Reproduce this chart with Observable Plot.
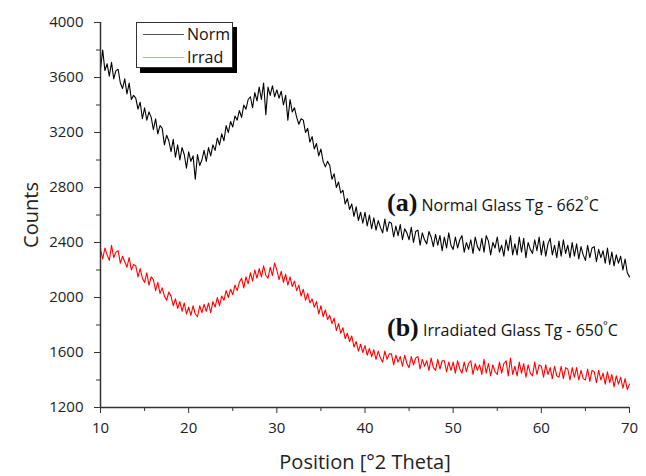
<!DOCTYPE html>
<html>
<head>
<meta charset="utf-8">
<script src="https://cdn.jsdelivr.net/npm/d3@7"></script>
<script src="https://cdn.jsdelivr.net/npm/@observablehq/plot@0.6"></script>
<style>
  html, body { margin: 0; padding: 0; background: #fff; }
  #wrap { position: relative; width: 646px; height: 476px; font-family: "Open Sans", sans-serif; }
  #wrap svg g[aria-label="y-axis label"], #wrap svg g[aria-label="x-axis label"] { font-size: 20px; }
  .legend { position: absolute; left: 136px; top: 22px; width: 95px; height: 44px; border: 1px solid #333; background: #fff; box-shadow: 4px 5px 0 #000; }
  .legend .row { position: absolute; left: 0; height: 20px; width: 95px; }
  .legend .swatch { position: absolute; left: 6px; top: 10px; width: 41px; height: 0; border-top: 1.5px solid; }
  .legend .lab { position: absolute; left: 50px; top: 0; font-size: 16px; line-height: 20px; color: #111; }
  .ann { position: absolute; white-space: nowrap; color: #111; line-height: 30px; }
  .ann b { font-family: "Liberation Serif", "DejaVu Serif", serif; font-weight: bold; font-size: 26px; }
  .ann span { font-family: "Open Sans", sans-serif; font-size: 16px; }
  .ann sup { font-size: 11px; vertical-align: 7px; }
</style>
</head>
<body>
<div id="wrap"></div>
<script>
// 2-theta sampling: 10 to 70 in steps of 0.25
const thetaStart = 10;
const thetaStep = 0.25;

const normCounts = [
  3660,3800,3650,3700, 3610,3710,3590,3650, 3660,3560,3520,3590, 3480,3560,3440,3470,
  3450,3370,3420,3300, 3380,3290,3350,3310, 3220,3300,3190,3250, 3230,3110,3180,3140,
  3060,3150,3020,3110, 3000,3090,3040,2940, 3060,2990,3030,2860, 3040,2960,3000,3070,
  2990,3090,3030,3110, 3070,3160,3110,3190, 3140,3250,3200,3280, 3240,3320,3290,3360,
  3310,3400,3370,3440, 3460,3380,3490,3430, 3530,3440,3560,3330, 3530,3470,3540,3460,
  3510,3450,3500,3400, 3470,3290,3440,3350, 3380,3310,3260,3300, 3290,3200,3230,3130,
  3170,3080,3120,3030, 3080,2990,2950,2990, 2960,2860,2900,2800, 2840,2760,2780,2680,
  2720,2640,2680,2590, 2660,2560,2620,2540, 2620,2520,2600,2500, 2580,2490,2560,2510,
  2470,2570,2480,2550, 2540,2440,2520,2450, 2530,2420,2500,2470, 2420,2510,2400,2480,
  2490,2380,2470,2420, 2390,2480,2440,2370, 2460,2380,2450,2340, 2440,2360,2470,2380,
  2350,2440,2360,2420, 2450,2330,2400,2350, 2420,2320,2440,2370, 2340,2430,2330,2450,
  2410,2310,2400,2360, 2440,2330,2380,2300, 2420,2340,2450,2310, 2390,2310,2440,2330,
  2430,2290,2400,2350, 2320,2420,2340,2440, 2310,2410,2300,2390, 2430,2310,2380,2290,
  2410,2300,2420,2320, 2380,2290,2400,2300, 2390,2280,2370,2310, 2270,2380,2290,2360,
  2370,2260,2350,2290, 2340,2250,2360,2240, 2330,2230,2310,2250, 2300,2200,2280,2180,
  2150
];

const irradCounts = [
  2350,2280,2360,2310, 2270,2380,2290,2330, 2340,2250,2300,2260, 2220,2290,2200,2240,
  2230,2150,2210,2140, 2110,2180,2090,2150, 2130,2050,2110,2030, 2070,2010,1980,2040,
  2010,1940,1990,1920, 1970,1900,1960,1880, 1930,1870,1940,1880, 1860,1940,1890,1950,
  1900,1960,1890,1970, 1930,2000,1940,2010, 1980,2050,2000,2060, 2020,2090,2050,2110,
  2140,2070,2150,2100, 2180,2120,2200,2140, 2210,2150,2230,2160, 2140,2220,2160,2250,
  2200,2130,2190,2110, 2170,2090,2150,2080, 2120,2050,2090,2010, 2060,1980,2030,1960,
  1990,1930,1970,1880, 1940,1860,1910,1840, 1870,1810,1850,1760, 1810,1740,1780,1700,
  1740,1680,1720,1640, 1680,1610,1660,1600, 1650,1580,1630,1570, 1620,1550,1610,1560,
  1530,1610,1550,1590, 1590,1510,1580,1530, 1570,1500,1580,1520, 1490,1570,1510,1560,
  1570,1480,1550,1500, 1540,1470,1560,1490, 1470,1550,1480,1540, 1540,1460,1530,1470,
  1530,1450,1540,1480, 1450,1530,1460,1520, 1540,1440,1520,1470, 1510,1440,1550,1450,
  1520,1430,1510,1460, 1440,1530,1450,1520, 1540,1430,1560,1440, 1500,1430,1530,1450,
  1520,1420,1510,1450, 1430,1530,1440,1510, 1500,1420,1510,1440, 1490,1410,1500,1430,
  1420,1500,1410,1490, 1480,1400,1490,1420, 1490,1400,1470,1410, 1400,1480,1390,1470,
  1460,1380,1470,1400, 1450,1370,1460,1380, 1440,1350,1430,1370, 1420,1340,1410,1330,
  1370
];

const xTicks = [10, 20, 30, 40, 50, 60, 70];
const xMinorTicks = [15, 25, 35, 45, 55, 65];
const yTicks = [1200, 1600, 2000, 2400, 2800, 3200, 3600, 4000];
const yMinorTicks = [1400, 1800, 2200, 2600, 3000, 3400, 3800];

const seriesNames = ["Norm", "Irrad"];
const seriesColors = ["#000000", "#ff0000"];
const legendSwatchColors = ["#555555", "#f29a9a"];

const annotations = [
  {tag: "(a)", text: "Normal Glass Tg - 662", unit: "C"},
  {tag: "(b)", text: "Irradiated Glass Tg - 650", unit: "C"}
];

const normData = normCounts.map((c, i) => ({theta: thetaStart + i * thetaStep, count: c}));
const irradData = irradCounts.map((c, i) => ({theta: thetaStart + i * thetaStep, count: c}));

const chart = Plot.plot({
  width: 646,
  height: 476,
  marginLeft: 100,
  marginRight: 17,
  marginTop: 22,
  marginBottom: 69,
  style: {fontFamily: "Open Sans, sans-serif", fontSize: "15px", color: "#222", background: "#fff", overflow: "visible"},
  x: {domain: [10, 70]},
  y: {domain: [1200, 4000]},
  marks: [
    Plot.line(normData, {x: "theta", y: "count", stroke: seriesColors[0], strokeWidth: 1.1}),
    Plot.line(irradData, {x: "theta", y: "count", stroke: seriesColors[1], strokeWidth: 1.1}),
    Plot.ruleX([10], {stroke: "#333", strokeWidth: 1.5}),
    Plot.ruleY([1200], {stroke: "#333", strokeWidth: 1.5}),
    Plot.axisY({ticks: yTicks, tickSize: 6, tickPadding: 11, tickFormat: d3.format("d"),
      label: "Counts", labelAnchor: "center", labelOffset: 77, labelArrow: "none", stroke: "#333"}),
    Plot.axisY({ticks: yMinorTicks, tickSize: 4, text: null, label: null, stroke: "#333"}),
    Plot.axisX({ticks: xTicks, tickSize: 6, tickPadding: 9, tickFormat: d3.format("d"),
      label: "Position [°2 Theta]", labelAnchor: "center", labelOffset: 61, labelArrow: "none", stroke: "#333"}),
    Plot.axisX({ticks: xMinorTicks, tickSize: 4, text: null, label: null, stroke: "#333"})
  ]
});

const wrap = document.getElementById("wrap");
wrap.appendChild(chart);

// legend
const legend = document.createElement("div");
legend.className = "legend";
seriesNames.forEach((name, i) => {
  const row = document.createElement("div");
  row.className = "row";
  row.style.top = (i * 23 + 1) + "px";
  const sw = document.createElement("div");
  sw.className = "swatch";
  sw.style.borderTopColor = legendSwatchColors[i];
  const lab = document.createElement("div");
  lab.className = "lab";
  lab.textContent = name;
  row.appendChild(sw);
  row.appendChild(lab);
  legend.appendChild(row);
});
wrap.appendChild(legend);

// annotations
const annTops = [185, 310];
annotations.forEach((a, i) => {
  const d = document.createElement("div");
  d.className = "ann";
  d.style.left = "387px";
  d.style.top = annTops[i] + "px";
  d.innerHTML = `<b>${a.tag}</b> <span>${a.text}<sup>°</sup>${a.unit}</span>`;
  wrap.appendChild(d);
});
</script>
</body>
</html>
